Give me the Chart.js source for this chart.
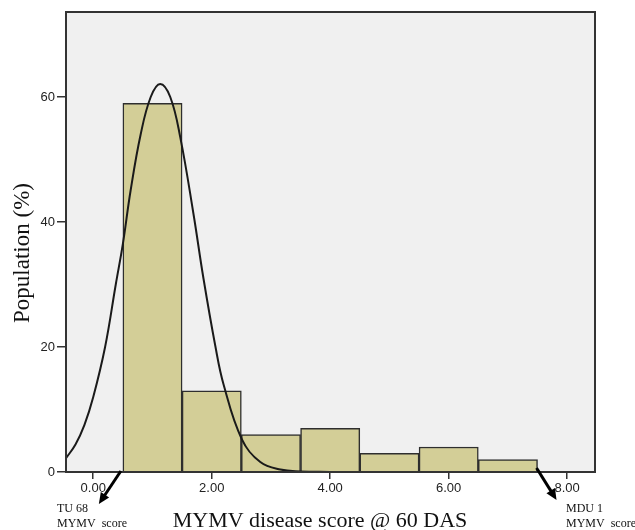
<!DOCTYPE html>
<html>
<head>
<meta charset="utf-8">
<script src="https://cdn.jsdelivr.net/npm/chart.js@4"></script>
<style>
  html, body { margin: 0; padding: 0; background: #fff; }
  #wrap { width: 635px; height: 530px; }
</style>
</head>
<body>
<div id="wrap"><canvas id="canvas1"></canvas></div>
<script>
// histogram bins (score) and population %
const binCenters = [1, 2, 3, 4, 5, 6, 7];
const population = [59, 13, 6, 7, 3, 4, 2];

// normal curve
const curveX = [-0.46, -0.3, -0.15, 0.0, 0.2, 0.38, 0.5, 0.63, 0.8, 0.97, 1.13, 1.3, 1.47, 1.69, 1.86, 2.06, 2.2, 2.51, 2.82, 3.16, 3.5, 4.0];
const curveY = [2.2, 4.4, 7.5, 12, 20, 30, 36.5, 45, 54, 60, 62.1, 60, 53.5, 41.4, 31, 20.2, 14, 5.2, 1.6, 0.4, 0.1, 0];

const xTicks = [0, 2, 4, 6, 8];
const yTicks = [0, 20, 40, 60];

const xTitle = 'MYMV disease score @ 60 DAS';
const yTitle = 'Population (%)';

const serif = '"Liberation Serif", "Times New Roman", serif';

function arrow(ctx, x1, y1, x2, y2) {
    const a = Math.atan2(y2 - y1, x2 - x1);
    ctx.beginPath();
    ctx.moveTo(x1, y1);
    ctx.lineTo(x2 - 6 * Math.cos(a), y2 - 6 * Math.sin(a));
    ctx.stroke();
    ctx.beginPath();
    ctx.moveTo(x2, y2);
    ctx.lineTo(x2 - 11 * Math.cos(a) + 5 * Math.sin(a), y2 - 11 * Math.sin(a) - 5 * Math.cos(a));
    ctx.lineTo(x2 - 11 * Math.cos(a) - 5 * Math.sin(a), y2 - 11 * Math.sin(a) + 5 * Math.cos(a));
    ctx.closePath();
    ctx.fill();
}

const decor = {
    id: 'decor',
    beforeDraw(chart) {
        const { ctx, chartArea: a } = chart;
        ctx.save();
        ctx.fillStyle = '#f0f0f0';
        ctx.fillRect(a.left, a.top, a.right - a.left, a.bottom - a.top);
        ctx.restore();
    },
    afterDraw(chart) {
        const { ctx, chartArea: a } = chart;
        const x = chart.scales.x, y = chart.scales.y;
        ctx.save();
        ctx.strokeStyle = '#333';
        ctx.lineWidth = 2;
        ctx.strokeRect(a.left, a.top, a.right - a.left, a.bottom - a.top);

        ctx.fillStyle = '#111';
        ctx.font = '22px ' + serif;
        ctx.textAlign = 'center';
        ctx.textBaseline = 'alphabetic';
        ctx.fillText(xTitle, 320, 527);

        ctx.save();
        ctx.translate(23, 253);
        ctx.rotate(-Math.PI / 2);
        ctx.font = '23px ' + serif;
        ctx.textBaseline = 'middle';
        ctx.fillText(yTitle, 0, 0);
        ctx.restore();

        // arrows from the first and last bin edge
        ctx.strokeStyle = '#000';
        ctx.fillStyle = '#000';
        ctx.lineWidth = 3;
        const y0 = y.getPixelForValue(0);
        const xl = x.getPixelForValue(0.5), xr = x.getPixelForValue(7.5);
        arrow(ctx, xl - 2, y0 - 1, xl - 24, y0 + 32);
        arrow(ctx, xr - 1, y0 - 4, xr + 19, y0 + 28);

        ctx.fillStyle = '#111';
        ctx.font = '12px ' + serif;
        ctx.textAlign = 'left';
        ctx.fillText('TU 68', 57, 512);
        ctx.fillText('MYMV  score', 57, 527);
        ctx.fillText('MDU 1', 566, 512);
        ctx.fillText('MYMV  score', 566, 527);
        ctx.restore();
    }
};

const ctx1 = document.getElementById('canvas1');

new Chart(ctx1, {
    type: 'bar',
    data: {
        datasets: [{
            type: 'line',
            label: 'Normal',
            data: curveX.map((v, i) => ({ x: v, y: curveY[i] })),
            borderColor: '#1a1a1a',
            borderWidth: 2,
            pointRadius: 0,
            fill: false,
            tension: 0.4
        },
        {
            label: 'Population',
            data: binCenters.map((v, i) => ({ x: v, y: population[i] })),
            backgroundColor: '#d3ce97',
            borderColor: '#2e2e2e',
            borderWidth: 1.5,
            barPercentage: 1,
            categoryPercentage: 1
        }]
    },
    options: {
        responsive: true,
        maintainAspectRatio: false,
        animation: false,
        layout: {
            padding: { left: 0, top: 12, right: 40, bottom: 0 }
        },
        plugins: {
            legend: { display: false },
            tooltip: { enabled: false }
        },
        scales: {
            x: {
                type: 'linear',
                min: -0.46,
                max: 8.47,
                offset: false,
                afterFit: (s) => { s.height = 58; },
                afterBuildTicks: (s) => { s.ticks = xTicks.map(v => ({ value: v })); },
                border: { display: false },
                grid: {
                    display: true,
                    offset: false,
                    drawOnChartArea: false,
                    drawTicks: true,
                    tickLength: 7,
                    color: '#333',
                    lineWidth: 1.5
                },
                ticks: {
                    padding: 2,
                    color: '#222',
                    font: { family: '"Liberation Sans", Arial, sans-serif', size: 13 },
                    callback: (v) => v.toFixed(2)
                }
            },
            y: {
                min: 0,
                max: 73.6,
                afterFit: (s) => { s.width = 66; },
                afterBuildTicks: (s) => { s.ticks = yTicks.map(v => ({ value: v })); },
                border: { display: false },
                grid: {
                    display: true,
                    drawOnChartArea: false,
                    drawTicks: true,
                    tickLength: 9,
                    color: '#333',
                    lineWidth: 1.5
                },
                ticks: {
                    padding: 2,
                    color: '#222',
                    font: { family: '"Liberation Sans", Arial, sans-serif', size: 13 },
                    callback: (v) => String(v)
                }
            }
        }
    },
    plugins: [decor]
});
</script>
</body>
</html>
